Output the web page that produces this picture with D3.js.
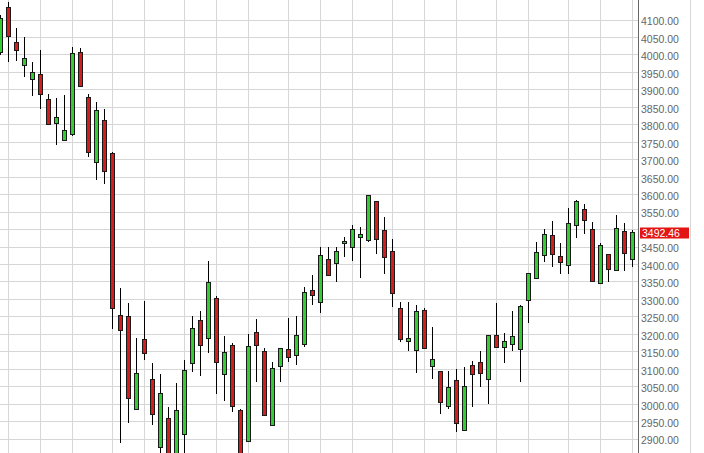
<!DOCTYPE html>
<html>
<head>
<meta charset="utf-8">
<script src="https://cdn.jsdelivr.net/npm/d3@7/dist/d3.min.js"></script>
<style>
  html, body { margin: 0; padding: 0; background: #ffffff; }
  svg { display: block; }
</style>
</head>
<body>
<script>
// Weekly OHLC data (index 0 = leftmost bar)
const openP  = [4009,4136,4036,3969,3930,3945,3873,3804,3755,3773,4007,3879,3692,3813,3718,3255,3250,2985,3186,3072,
                2876,2959,2850,2911,3117,3240,3189,3303,3086,3169,2982,2892,3206,3152,2939,3108,3157,3139,3171,3326,
                3290,3413,3403,3460,3449,3479,3469,3581,3496,3438,3274,3180,3154,3269,3108,3094,2994,3069,2925,3111,
                3119,3071,3198,3163,3171,3157,3297,3360,3425,3483,3424,3398,3512,3558,3501,3346,3429,3383,3495,3415];
const highP  = [4114,4152,4076,4051,3980,4014,3887,3877,3884,4022,4019,3889,3865,3845,3721,3333,3290,3189,3295,3117,
                3086,2993,3061,3126,3252,3267,3410,3310,3195,3175,2986,3200,3243,3162,3120,3160,3247,3252,3335,3370,
                3450,3450,3450,3479,3513,3507,3600,3582,3536,3472,3292,3292,3284,3274,3220,3095,3096,3100,3106,3123,
                3152,3199,3290,3205,3267,3283,3376,3465,3502,3524,3461,3561,3586,3573,3521,3461,3430,3542,3519,3500];
const lowP   = [4000,3980,3983,3938,3883,3844,3798,3741,3754,3767,3909,3707,3642,3630,3215,2890,2947,2984,3127,2940,
                2850,2815,2830,2860,3093,3081,3146,3028,3008,2978,2840,2891,3064,2967,2938,3064,3121,3112,3163,3284,
                3262,3366,3351,3422,3410,3362,3465,3431,3374,3277,3179,3153,3088,3157,3073,2971,2985,2921,2924,2993,
                3050,3000,3163,3117,3152,3064,3231,3358,3408,3394,3372,3372,3477,3486,3351,3345,3351,3382,3381,3393];
const closeP = [4105,4054,4013,3990,3951,3887,3800,3821,3784,4005,3910,3721,3841,3666,3274,3211,3014,3088,3146,2971,
                3031,2845,2983,3095,3217,3168,3349,3120,3148,2994,2855,3165,3168,2968,3103,3159,3134,3197,3320,3313,
                3426,3368,3438,3467,3501,3487,3597,3471,3420,3317,3184,3189,3266,3159,3129,3005,3048,2947,3051,3086,
                3088,3198,3164,3180,3194,3281,3375,3435,3486,3429,3408,3517,3581,3526,3352,3455,3386,3503,3432,3492.46];
// Bars on which a new month starts (vertical grid lines)
const monthStarts = [1,5,9,14,18,23,27,31,36,40,44,49,53,57,62,66,71,75,79];
// Price axis ticks
const yTicks = d3.range(2900, 4101, 50);
const lastPrice = 3492.46;

const W = 704, H = 453;
const plotRight = 638;

const svg = d3.select("body").append("svg")
  .attr("width", W).attr("height", H)
  .style("font-family", "'Liberation Sans', Arial, sans-serif");

const x = d3.scaleLinear().domain([0, openP.length - 1]).range([0.5, 632.5]);
const y = d3.scaleLinear().domain([2900, 4100]).range([439.1, 20]);

const snap = v => Math.round(v - 0.5) + 0.5;

// horizontal grid
svg.append("g").selectAll("line").data(yTicks).join("line")
  .attr("x1", 0).attr("x2", plotRight)
  .attr("y1", d => snap(y(d))).attr("y2", d => snap(y(d)))
  .attr("stroke", "#d6d6d6").attr("stroke-width", 1);

// vertical grid
svg.append("g").selectAll("line").data(monthStarts).join("line")
  .attr("x1", d => x(d)).attr("x2", d => x(d))
  .attr("y1", 0).attr("y2", H)
  .attr("stroke", "#d6d6d6").attr("stroke-width", 1);

// candles
const idx = d3.range(openP.length);
const plot = svg.append("g");
plot.selectAll("line.wick").data(idx).join("line")
  .attr("class", "wick")
  .attr("x1", i => x(i)).attr("x2", i => x(i))
  .attr("y1", i => Math.round(y(highP[i]))).attr("y2", i => Math.round(y(lowP[i])))
  .attr("stroke", "#000").attr("stroke-width", 1);

plot.selectAll("rect.body").data(idx).join("rect")
  .attr("class", "body")
  .attr("x", i => x(i) - 2)
  .attr("width", 4)
  .attr("y", i => snap(y(Math.max(openP[i], closeP[i]))))
  .attr("height", i => Math.max(1, Math.round(y(Math.min(openP[i], closeP[i])) - y(Math.max(openP[i], closeP[i])))))
  .attr("fill", i => closeP[i] >= openP[i] ? "#33cc33" : "#d41e1e")
  .attr("stroke", "#1a1a1a").attr("stroke-width", 1);

// right axis panel
svg.append("rect").attr("x", plotRight).attr("y", 0).attr("width", W - plotRight).attr("height", H).attr("fill", "#fff");
svg.append("line").attr("x1", plotRight + 0.5).attr("x2", plotRight + 0.5).attr("y1", 0).attr("y2", H)
  .attr("stroke", "#666").attr("stroke-width", 1);
svg.append("line").attr("x1", 690.5).attr("x2", 690.5).attr("y1", 0).attr("y2", H)
  .attr("stroke", "#d6d6d6").attr("stroke-width", 1);

// tick labels hidden where the last-price tag sits on top of them
const tagY = y(lastPrice);
const labelTicks = yTicks.filter(v => Math.abs(y(v) - tagY) > 9);

const axis = d3.axisRight(y).tickValues(labelTicks).tickFormat(d3.format(".2f")).tickSize(0).tickPadding(3);
const ag = svg.append("g").attr("transform", `translate(${plotRight},1.5)`).call(axis);
ag.select(".domain").remove();
ag.selectAll("text").attr("fill", "#666").style("font-size", "10.5px").style("font-family", "'Liberation Sans', Arial, sans-serif");

// last price tag
svg.append("rect").attr("x", 640).attr("y", Math.round(tagY) - 4.5).attr("width", 49).attr("height", 11).attr("fill", "#e31414");
svg.append("text").attr("x", 642).attr("y", tagY + 5).attr("fill", "#fff")
  .style("font-size", "10.5px").text(d3.format(".2f")(lastPrice));
</script>
</body>
</html>
